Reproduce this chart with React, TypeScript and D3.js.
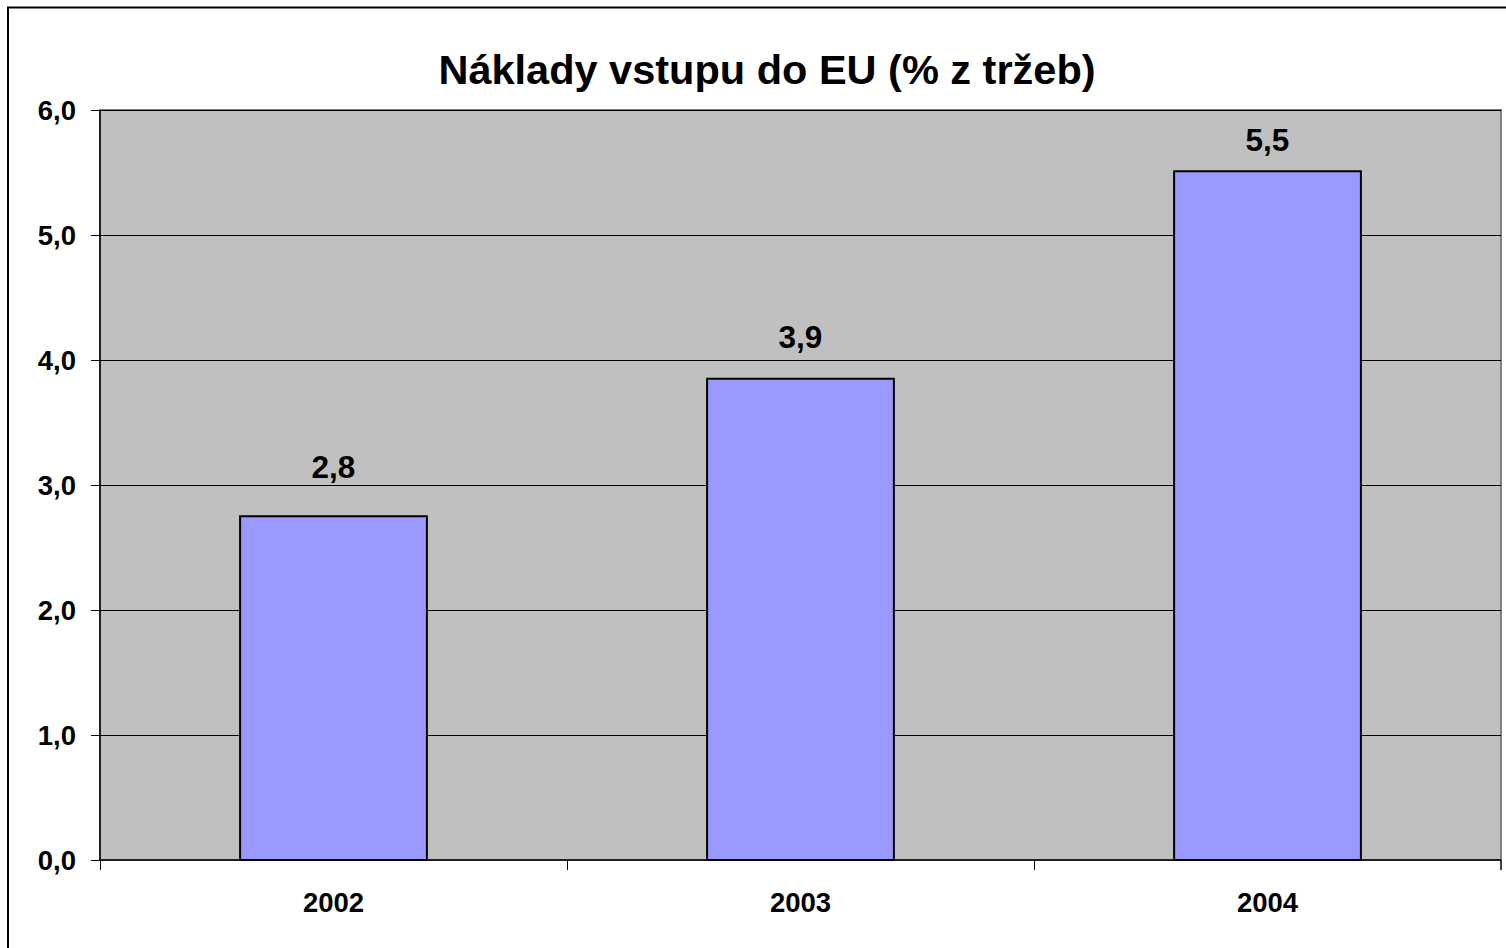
import React from "react";
import * as d3 from "d3";

const years = ["2002", "2003", "2004"];
const costs = [2.75, 3.85, 5.51];
const valueLabels = ["2,8", "3,9", "5,5"];
const yTicks = [0, 1, 2, 3, 4, 5, 6];

const font = "'Liberation Sans', Arial, sans-serif";

export default function App() {
  const width = 1506;
  const height = 948;
  const plot = { left: 100, top: 110, right: 1501, bottom: 860 };

  const x = d3.scaleBand<string>()
    .domain(years)
    .range([plot.left, plot.right])
    .paddingInner(0)
    .paddingOuter(0);
  const barW = x.bandwidth() * 0.4;

  const y = d3.scaleLinear().domain([0, 6]).range([plot.bottom, plot.top]);
  // Excel puts the value labels a bit off from the bar tops
  const yLabel = d3.scaleLinear().domain([0, 6]).range([804, 93]);

  const fmt = (v: number) => d3.format(".1f")(v).replace(".", ",");

  return (
    <svg
      width={width}
      height={height}
      style={{ position: "absolute", left: 0, top: 0, background: "#fff" }}
      fontFamily={font}
    >
      <rect x={8} y={7.5} width={1520} height={960} fill="#fff" stroke="#000" strokeWidth={2} />

      <text x={767} y={84} textAnchor="middle" fontSize={41.5} fontWeight="bold">
        Náklady vstupu do EU (% z tržeb)
      </text>

      <rect
        x={plot.left}
        y={plot.top}
        width={plot.right - plot.left}
        height={plot.bottom - plot.top}
        fill="#c0c0c0"
        stroke="#808080"
        strokeWidth={2}
      />

      {yTicks.filter((t) => t > 0).map((t) => (
        <line key={"g" + t} x1={plot.left} x2={plot.right} y1={y(t) + 0.5} y2={y(t) + 0.5} stroke="#000" strokeWidth={1} />
      ))}

      {years.map((yr, i) => (
        <rect
          key={yr}
          x={(x(yr) ?? 0) + (x.bandwidth() - barW) / 2}
          y={y(costs[i])}
          width={barW}
          height={y(0) - y(costs[i])}
          fill="#9999ff"
          stroke="#000"
          strokeWidth={2}
        />
      ))}

      {/* axes */}
      <line x1={plot.left} x2={plot.left} y1={plot.top} y2={plot.bottom} stroke="#000" strokeWidth={1.5} />
      <line x1={plot.left} x2={plot.right} y1={plot.bottom} y2={plot.bottom} stroke="#000" strokeWidth={1.5} />

      {yTicks.map((t) => (
        <g key={"t" + t}>
          <line x1={plot.left - 9} x2={plot.left} y1={y(t) + 0.5} y2={y(t) + 0.5} stroke="#000" strokeWidth={1} />
          <text x={76} y={y(t) + 10} textAnchor="end" fontSize={27.5} fontWeight="bold">
            {fmt(t)}
          </text>
        </g>
      ))}

      {years.map((yr) => (
        <line
          key={"xt" + yr}
          x1={(x(yr) ?? 0) + 0.5}
          x2={(x(yr) ?? 0) + 0.5}
          y1={plot.bottom}
          y2={plot.bottom + 10}
          stroke="#000"
          strokeWidth={1}
        />
      ))}
      <line x1={plot.right} x2={plot.right} y1={plot.bottom} y2={plot.bottom + 10} stroke="#000" strokeWidth={1.5} />

      {years.map((yr) => (
        <text
          key={"xl" + yr}
          x={(x(yr) ?? 0) + x.bandwidth() / 2}
          y={912}
          textAnchor="middle"
          fontSize={27.5}
          fontWeight="bold"
        >
          {yr}
        </text>
      ))}

      {years.map((yr, i) => (
        <text
          key={"vl" + yr}
          x={(x(yr) ?? 0) + x.bandwidth() / 2}
          y={yLabel(costs[i])}
          textAnchor="middle"
          fontSize={31.5}
          fontWeight="bold"
        >
          {valueLabels[i]}
        </text>
      ))}
    </svg>
  );
}
